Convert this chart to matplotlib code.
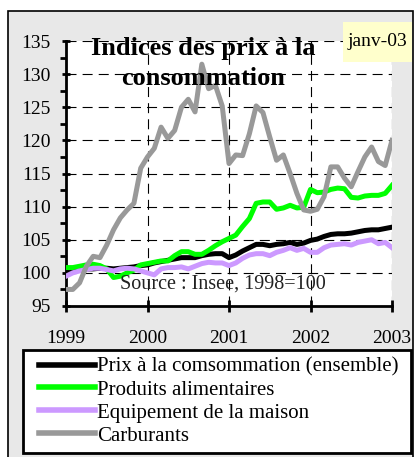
import numpy as np
import matplotlib
matplotlib.use("Agg")
import matplotlib.pyplot as plt
from matplotlib.patches import Rectangle

plt.rcParams["font.family"] = ["Liberation Serif", "DejaVu Serif"]

# monthly values, Jan 1999 .. Jan 2003
months = np.arange(49)
years = [1999, 2000, 2001, 2002, 2003]
yticks = [95, 100, 105, 110, 115, 120, 125, 130, 135]

ensemble = [100.3, 100.4, 100.5, 100.6, 100.6, 100.7, 100.7, 100.6, 100.7, 100.8, 100.9, 101.1,
            101.2, 101.5, 101.7, 101.9, 102.1, 102.3, 102.3, 102.3, 102.6, 102.8, 102.9, 102.9,
            102.3, 102.7, 103.3, 103.8, 104.3, 104.3, 104.1, 104.3, 104.4, 104.6, 104.3, 104.5,
            104.9, 105.1, 105.5, 105.8, 105.9, 105.9, 106.0, 106.2, 106.4, 106.5, 106.5, 106.7,
            106.9]
alimentaires = [100.8, 100.8, 101.0, 101.2, 101.3, 101.1, 100.6, 99.3, 99.5, 100.0, 100.4, 101.2,
                101.4, 101.6, 101.8, 101.8, 102.6, 103.2, 103.2, 102.8, 102.8, 103.4, 104.1, 104.7,
                105.2, 105.7, 107.0, 108.2, 110.5, 110.7, 110.7, 109.6, 109.8, 110.2, 109.8, 109.9,
                112.6, 112.1, 112.2, 112.6, 112.8, 112.7, 111.4, 111.3, 111.6, 111.7, 111.7, 112.0,
                113.2]
equipement = [99.5, 100.0, 100.3, 100.5, 100.7, 100.7, 100.5, 100.3, 100.6, 100.7, 100.6, 100.3,
              100.0, 99.7, 100.6, 100.8, 100.8, 100.9, 100.6, 101.0, 101.4, 101.6, 101.5, 101.5,
              101.1, 101.5, 102.2, 102.7, 102.9, 102.9, 102.6, 103.1, 103.4, 103.8, 103.4, 103.7,
              103.1, 103.1, 103.8, 104.2, 104.3, 104.4, 104.2, 104.6, 104.8, 105.0, 104.4, 104.6,
              103.8]
carburants = [97.5, 97.5, 98.5, 101.0, 102.5, 102.3, 104.2, 106.5, 108.3, 109.5, 110.5, 115.8,
              117.5, 118.8, 122.0, 120.3, 121.5, 125.0, 126.2, 124.3, 131.5, 127.8, 128.3, 125.2,
              116.5, 117.8, 117.7, 121.0, 125.2, 124.2, 120.5, 117.0, 117.8, 115.0, 112.0, 109.5,
              109.3, 109.6, 111.5, 116.0, 116.0, 114.3, 113.0, 115.3, 117.5, 119.0, 116.8, 116.2,
              120.0]

x = 1999 + months / 12.0

fig = plt.figure(figsize=(4.17, 4.57), dpi=100, facecolor="white")
W, H = 417, 457
fig.patches.append(Rectangle((8 / W, -0.01), 405 / W, 1 - 11 / H + 0.01,
                             transform=fig.transFigure, facecolor="#e8e8e8",
                             edgecolor="black", linewidth=1.2, zorder=-5))

ax = fig.add_axes([66 / W, 1 - 306 / H, 326 / W, 265 / H])
ax.set_facecolor("white")
ax.set_zorder(2)

lw = 3.6
ax.plot(x, ensemble, color="black", lw=lw, label="Prix à la comsommation (ensemble)", zorder=3)
ax.plot(x, alimentaires, color="#00ff00", lw=lw, label="Produits alimentaires", zorder=3)
ax.plot(x, equipement, color="#cc99ff", lw=lw, label="Equipement de la maison", zorder=3)
ax.plot(x, carburants, color="#999999", lw=lw, label="Carburants", zorder=3)

ax.set_xlim(1999, 2003)
ax.set_ylim(95, 135)
ax.set_xticks(years)
ax.set_yticks(yticks)
ax.set_yticks(np.arange(97.5, 135, 5), minor=True)
ax.grid(True, which="major", color="black", lw=0.8, linestyle=(0, (9, 5.5)), zorder=1)
ax.set_axisbelow(True)

for s in ["top", "right"]:
    ax.spines[s].set_visible(False)
for s in ["left", "bottom"]:
    ax.spines[s].set_linewidth(2.0)

ax.tick_params(axis="y", which="major", direction="inout", length=6, width=2,
               labelsize=14, pad=8)
ax.tick_params(axis="y", which="minor", direction="out", length=4, width=2)
ax.tick_params(axis="x", which="major", direction="inout", length=9, width=2,
               labelsize=14, pad=13)

ax.text(2000.68, 131.6, "Indices des prix à la\nconsommation", ha="center", va="center",
        fontsize=19, fontweight="bold", linespacing=1.4, zorder=5)
ax.text(2000.93, 98.3, "Source : Insee, 1998=100", ha="center", va="center",
        fontsize=14.5, color="#222222", zorder=5)

# date label box, top right
fig.patches.append(Rectangle((343 / W, 1 - 62 / H), 69 / W, 40 / H, transform=fig.transFigure,
                             facecolor="#ffffcc", edgecolor="none", zorder=8))
t = fig.text(377 / W, 1 - 42 / H, "janv-03", ha="center", va="center", fontsize=14)
t.set_zorder(10)

lh = 105 / H
leg = fig.legend(loc="upper left", bbox_to_anchor=(23 / W, 1 - 350 / H - lh, 388 / W, lh),
                 mode="expand", fontsize=15, frameon=True, fancybox=False, framealpha=1,
                 edgecolor="black", handlelength=3.1, handletextpad=0.1,
                 labelspacing=0.16, borderpad=0.35, borderaxespad=0)
leg.get_frame().set_linewidth(2.0)
leg.set_zorder(10)
for h in leg.get_lines():
    h.set_linewidth(4)
    xd = np.asarray(h.get_xdata(), dtype=float)
    h.set_xdata(np.linspace(xd[0] + 6.5, xd[-1], len(xd)))

fig.savefig("out.png", dpi=100, facecolor=fig.get_facecolor())
